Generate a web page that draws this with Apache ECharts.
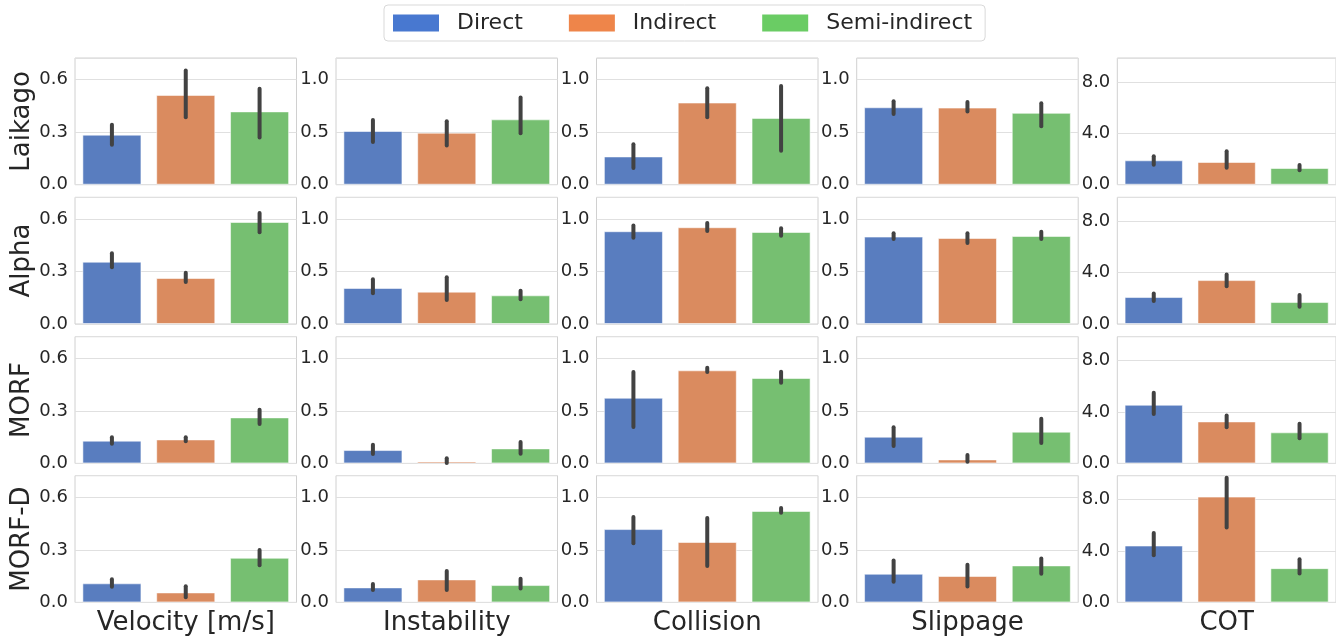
<!DOCTYPE html>
<html>
<head>
<meta charset="utf-8">
<title>Gait comparison</title>
<script src="https://cdn.jsdelivr.net/npm/echarts@6/dist/echarts.min.js"></script>
<style>
  html, body { margin: 0; padding: 0; background: #fff; }
  #chart { width: 1336px; height: 639px; }
</style>
</head>
<body>
<div id="chart"></div>
<script>
const methods = ['Direct', 'Indirect', 'Semi-indirect'];
const robots = ['Laikago', 'Alpha', 'MORF', 'MORF-D'];
const metrics = ['Velocity [m/s]', 'Instability', 'Collision', 'Slippage', 'COT'];

// y axis per column
const yMax = [0.724, 1.206, 1.206, 1.206, 9.87];
const yStep = [0.3, 0.5, 0.5, 0.5, 4];

// mean per robot (rows) and method (cols), plus error bar low / high
const velocityMean = [[0.286, 0.513, 0.419], [0.356, 0.263, 0.583], [0.130, 0.137, 0.263], [0.109, 0.057, 0.255]];
const velocityLow  = [[0.229, 0.385, 0.270], [0.324, 0.240, 0.524], [0.112, 0.126, 0.225], [0.090, 0.029, 0.213]];
const velocityHigh = [[0.343, 0.653, 0.549], [0.404, 0.293, 0.634], [0.150, 0.150, 0.307], [0.133, 0.093, 0.299]];

const instabilityMean = [[0.511, 0.495, 0.622], [0.343, 0.308, 0.273], [0.127, 0.019, 0.143], [0.143, 0.219, 0.165]];
const instabilityLow  = [[0.407, 0.374, 0.489], [0.292, 0.229, 0.235], [0.089, 0.003, 0.092], [0.117, 0.117, 0.133]];
const instabilityHigh = [[0.616, 0.603, 0.829], [0.425, 0.444, 0.317], [0.178, 0.048, 0.203], [0.175, 0.298, 0.225]];

const collisionMean = [[0.269, 0.782, 0.636], [0.883, 0.921, 0.876], [0.625, 0.886, 0.813], [0.698, 0.575, 0.870]];
const collisionLow  = [[0.158, 0.642, 0.323], [0.822, 0.886, 0.841], [0.346, 0.870, 0.768], [0.562, 0.346, 0.854]];
const collisionHigh = [[0.386, 0.918, 0.940], [0.937, 0.962, 0.911], [0.870, 0.911, 0.873], [0.813, 0.803, 0.898]];

const slippageMean = [[0.737, 0.734, 0.684], [0.832, 0.819, 0.838], [0.254, 0.038, 0.302], [0.273, 0.251, 0.352]];
const slippageLow  = [[0.674, 0.696, 0.557], [0.810, 0.771, 0.810], [0.165, 0.016, 0.194], [0.197, 0.152, 0.273]];
const slippageHigh = [[0.794, 0.788, 0.775], [0.863, 0.863, 0.879], [0.343, 0.079, 0.425], [0.400, 0.359, 0.419]];

const cotMean = [[1.90, 1.77, 1.30], [2.10, 3.42, 1.71], [4.57, 3.27, 2.42], [4.43, 8.24, 2.67]];
const cotLow  = [[1.56, 1.32, 1.12], [1.79, 2.95, 1.35], [3.84, 2.81, 1.95], [3.68, 5.83, 2.25]];
const cotHigh = [[2.21, 2.60, 1.53], [2.38, 3.86, 2.25], [5.51, 3.74, 3.09], [5.41, 10.3, 3.37]];

const means = [velocityMean, instabilityMean, collisionMean, slippageMean, cotMean];
const lows = [velocityLow, instabilityLow, collisionLow, slippageLow, cotLow];
const highs = [velocityHigh, instabilityHigh, collisionHigh, slippageHigh, cotHigh];

const barColors = ['#597dbf', '#da8b5f', '#76bf71'];
const legendColors = ['#4878d0', '#ee854a', '#6acc64'];

const font = 'DejaVu Sans';
const textColor = '#262626';
const colLeft = [75, 336, 596.5, 856.7, 1117.3];
const rowTop = [58, 197.3, 336.7, 475.7];
const cellW = 221.5;
const cellH = 126.7;

const chart = echarts.init(document.getElementById('chart'));

const grid = [];
const xAxis = [];
const yAxis = [];
const series = [];

robots.forEach((robot, r) => {
  metrics.forEach((metric, c) => {
    const idx = grid.length;
    grid.push({
      left: colLeft[c], top: rowTop[r], width: cellW, height: cellH,
      show: true, borderColor: '#d0d0d0', borderWidth: 1
    });
    xAxis.push({
      gridIndex: idx,
      type: 'category',
      data: methods,
      axisLine: { show: false },
      axisTick: { show: false },
      axisLabel: { show: false },
      splitLine: { show: false },
      name: r === robots.length - 1 ? metric : '',
      nameLocation: 'middle',
      nameGap: 8,
      nameTextStyle: { fontFamily: font, fontSize: 26, color: textColor, verticalAlign: 'top' }
    });
    yAxis.push({
      gridIndex: idx,
      type: 'value',
      min: 0,
      max: yMax[c],
      interval: yStep[c],
      axisLine: { show: false },
      axisTick: { show: false },
      axisLabel: {
        fontFamily: font, fontSize: 18, color: textColor, margin: 7,
        showMaxLabel: false,
        formatter: v => v.toFixed(1)
      },
      splitLine: { lineStyle: { color: '#e0e0e0', width: 1 } },
      name: c === 0 ? robot : '',
      nameLocation: 'middle',
      nameGap: 40,
      nameTextStyle: { fontFamily: font, fontSize: 26, color: textColor }
    });

    methods.forEach((m, k) => {
      series.push({
        type: 'bar',
        name: m,
        xAxisIndex: idx,
        yAxisIndex: idx,
        data: methods.map((_, j) => (j === k ? means[c][r][k] : '-')),
        barWidth: '80%',
        barGap: '-100%',
        itemStyle: { color: barColors[k], borderColor: 'rgba(255,255,255,0.55)', borderWidth: 1 },
        silent: true
      });
    });

    // error bars
    series.push({
      type: 'custom',
      xAxisIndex: idx,
      yAxisIndex: idx,
      z: 10,
      silent: true,
      data: methods.map((_, k) => [k, lows[c][r][k], highs[c][r][k]]),
      encode: { x: 0, y: [1, 2] },
      renderItem: (params, api) => {
        const a = api.coord([api.value(0), api.value(1)]);
        const b = api.coord([api.value(0), api.value(2)]);
        const top = params.coordSys.y + 2;
        return {
          type: 'line',
          shape: { x1: a[0], y1: a[1], x2: b[0], y2: Math.max(b[1], top) },
          style: { stroke: '#424242', lineWidth: 4, lineCap: 'round' }
        };
      }
    });
  });
});

chart.setOption({
  animation: false,
  backgroundColor: '#fff',
  legend: {
    left: 384,
    top: 5,
    padding: [7, 13, 7, 9],
    itemGap: 46,
    itemWidth: 46,
    itemHeight: 17,
    icon: 'rect',
    backgroundColor: '#fff',
    borderColor: '#d9d9d9',
    borderWidth: 1,
    borderRadius: 4,
    textStyle: { fontFamily: font, fontSize: 22, color: textColor, padding: [0, 0, 0, 13] },
    data: methods.map((n, i) => ({ name: n, itemStyle: { color: legendColors[i], borderWidth: 0 } }))
  },
  grid,
  xAxis,
  yAxis,
  series
});
</script>
</body>
</html>
